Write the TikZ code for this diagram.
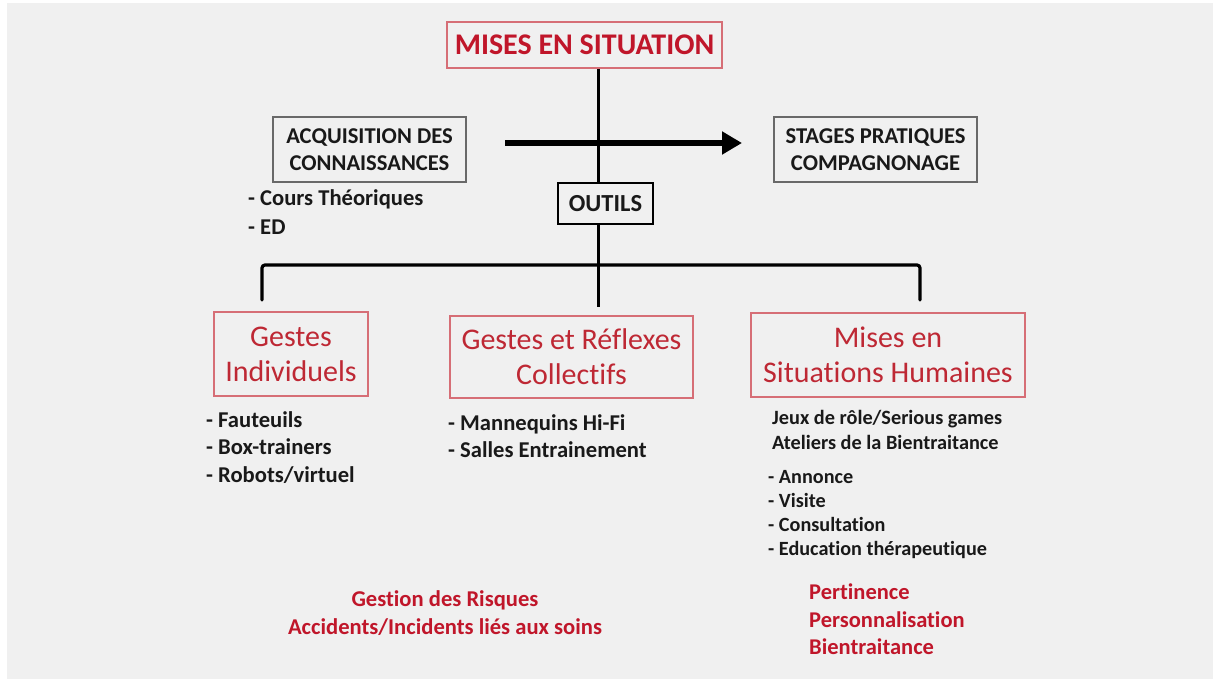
\documentclass[tikz,border=0pt]{standalone}
\usepackage{fontspec}
\setmainfont{Carlito}[Ligatures=NoCommon]
\usetikzlibrary{arrows.meta}
\definecolor{bgcol}{RGB}{240,240,240}
\definecolor{redtxt}{RGB}{192,22,42}
\definecolor{boxtxt}{RGB}{190,40,52}
\definecolor{boxred}{RGB}{214,110,118}
\definecolor{boxgrey}{RGB}{105,105,105}
\definecolor{ink}{RGB}{25,25,25}
\tikzset{
  redbox/.style={draw=boxred, line width=1.1pt, fill=bgcol, text=boxtxt, align=center, inner sep=0pt},
  greybox/.style={draw=boxgrey, line width=1.4pt, fill=bgcol, text=ink, align=center, inner sep=0pt, font=\bfseries\fontsize{22.6}{27}\selectfont},
  blackbox/.style={draw=black, line width=2.4pt, fill=bgcol, text=ink, inner sep=0pt, font=\bfseries\fontsize{24.5}{28}\selectfont},
  listtxt/.style={text=ink, align=left, inner sep=0pt, anchor=west},
  redlist/.style={text=redtxt, inner sep=0pt},
  conn/.style={draw=black, line width=3.2pt},
}
\begin{document}
\begin{tikzpicture}[x=1pt,y=-1pt]
\useasboundingbox (0,0) rectangle (1213,679);
\fill[white] (0,0) rectangle (1213,679);
\fill[bgcol] (7,3) rectangle (1213,679);

% title
\node[redbox, text=redtxt, minimum width=275pt, minimum height=46pt, font=\bfseries\fontsize{30}{34}\selectfont] (title) at (584.5,45) {MISES EN SITUATION};

% coordinates for connectors
\coordinate (mid) at (598,307);
\coordinate (fork) at (598,265);
\coordinate (bl) at (262,300);
\coordinate (br) at (920,300);
\coordinate (arrS) at (505,143);
\coordinate (arrE) at (742,143);

\draw[conn, line width=3pt] (title.south -| mid) -- (mid);
\draw[conn, line cap=round, rounded corners=3pt] (bl) -- (bl |- fork) -- (br |- fork) -- (br);

% side boxes
\node[greybox, minimum width=193pt, minimum height=65pt] (acq) at (369.5,149.5) {ACQUISITION DES\\CONNAISSANCES};
\node[greybox, minimum width=203pt, minimum height=65pt] (stages) at (875.5,149.5) {STAGES PRATIQUES\\COMPAGNONAGE};

% main arrow
\draw[line width=6pt, -{Triangle[length=20pt,width=22pt]}] (arrS) -- (arrE);

\node[blackbox, minimum width=95pt, minimum height=41pt] (outils) at (605.5,203.5) {OUTILS};

\node[listtxt, font=\bfseries\fontsize{22.6}{29}\selectfont] (cours) at (248,212.5) {- Cours Théoriques\\- ED};

% lower boxes
\node[redbox, minimum width=154pt, minimum height=84pt, font=\fontsize{30}{35}\selectfont] (gind) at (291,354) {Gestes\\Individuels};
\node[redbox, minimum width=243pt, minimum height=82pt, font=\fontsize{30}{35}\selectfont] (gcol) at (571.5,357) {Gestes et Réflexes\\Collectifs};
\node[redbox, minimum width=274pt, minimum height=84pt, font=\fontsize{30}{35}\selectfont] (hum) at (888,355) {Mises en\\Situations Humaines};

% lists
\node[listtxt, font=\bfseries\fontsize{22.6}{27.5}\selectfont] (l1) at (206,447.5) {- Fauteuils\\- Box-trainers\\- Robots/virtuel};
\node[listtxt, font=\bfseries\fontsize{22.6}{27}\selectfont] (l2) at (448,436.5) {- Mannequins Hi-Fi\\- Salles Entrainement};
\node[listtxt, font=\bfseries\fontsize{20.3}{25}\selectfont] (l3) at (772,429.5) {Jeux de rôle/Serious games\\Ateliers de la Bientraitance};
\node[listtxt, font=\bfseries\fontsize{20.2}{24.3}\selectfont] (l4) at (768,514.5) {- Annonce\\- Visite\\- Consultation\\- Education thérapeutique};

% red conclusions
\node[redlist, align=center, font=\bfseries\fontsize{22.6}{28}\selectfont] (risk) at (445,613) {Gestion des Risques\\Accidents/Incidents liés aux soins};
\node[redlist, align=left, anchor=west, font=\bfseries\fontsize{22.5}{27.5}\selectfont] (pert) at (809,619.5) {Pertinence\\Personnalisation\\Bientraitance};
\end{tikzpicture}
\end{document}
